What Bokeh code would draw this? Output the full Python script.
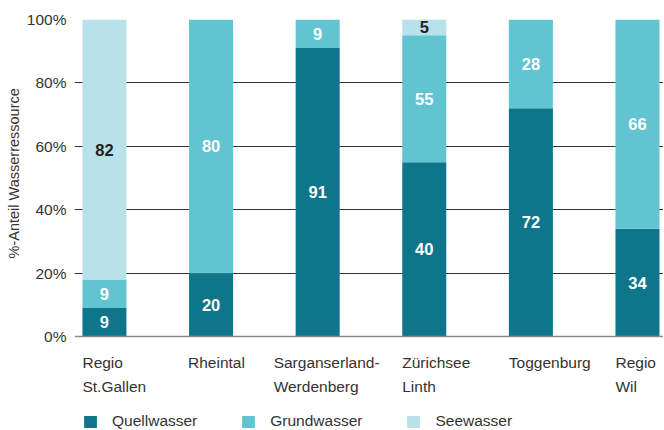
from bokeh.plotting import figure
from bokeh.models import (ColumnDataSource, LabelSet, Legend, LegendItem, FixedTicker,
                          Range1d, Span, Title)
from bokeh.embed import file_html
from bokeh.resources import INLINE
from bokeh.core.properties import value

# ---- data ----
regions = ["Regio\nSt.Gallen", "Rheintal", "Sarganserland-\nWerdenberg",
           "Zürichsee\nLinth", "Toggenburg", "Regio\nWil"]
quellwasser = [9, 20, 91, 55, 72, 34]
grundwasser = [9, 80, 9, 40, 28, 66]
seewasser = [82, 0, 0, 5, 0, 0]
quell_labels = ["9", "20", "91", "40", "72", "34"]
grund_labels = ["9", "80", "9", "55", "28", "66"]
see_labels = ["82", "", "", "5", "", ""]
series = ["Quellwasser", "Grundwasser", "Seewasser"]
y_ticks = [0, 20, 40, 60, 80, 100]
y_title = "%-Anteil Wasserressource"

# ---- style ----
colors = ["#0e758a", "#62c4d1", "#b9e1e9"]
label_colors = ["#ffffff", "#ffffff", "#222222"]
cat_nudge = [0, -1, -22, 0, 0, 0]   # px nudges of category labels (layout only)
FONT = "Liberation Sans"
BAR_W = 0.413

n = len(regions)
xs = list(range(n))
q_bot = [0] * n
q_top = [q for q in quellwasser]
g_bot = q_top
g_top = [q + g for q, g in zip(quellwasser, grundwasser)]
s_bot = g_top
s_top = [q + g + s for q, g, s in zip(quellwasser, grundwasser, seewasser)]

src = ColumnDataSource(dict(
    x=xs,
    q_bot=q_bot, q_top=q_top, g_bot=g_bot, g_top=g_top, s_bot=s_bot, s_top=s_top,
    q_mid=[(a + b) / 2 for a, b in zip(q_bot, q_top)],
    g_mid=[(a + b) / 2 for a, b in zip(g_bot, g_top)],
    s_mid=[(a + b) / 2 for a, b in zip(s_bot, s_top)],
    q_lab=quell_labels, g_lab=grund_labels, s_lab=see_labels,
    cat_x=[x - BAR_W / 2 for x in xs], cat_y=[0] * n, cat=regions, cat_dx=cat_nudge,
))

# frame extends below the 0-line so that category labels and legend live inside it
p = figure(width=663, height=429, output_backend="svg", toolbar_location=None,
           x_range=Range1d(-0.281, 5.244), y_range=Range1d(-29.3, 100),
           x_axis_location=None,
           min_border_left=74, min_border_right=0, min_border_top=19, min_border_bottom=0)
p.outline_line_color = None
p.background_fill_color = "white"
p.border_fill_color = "white"

renderers = []
for (b, t), c in zip([("q_bot", "q_top"), ("g_bot", "g_top"), ("s_bot", "s_top")], colors):
    r = p.vbar(x="x", bottom=b, top=t, width=BAR_W, source=src, fill_color=c, line_color=None)
    renderers.append(r)

for mid, lab, col in zip(["q_mid", "g_mid", "s_mid"], ["q_lab", "g_lab", "s_lab"], label_colors):
    p.add_layout(LabelSet(x="x", y=mid, text=lab, source=src, text_align="center",
                          text_baseline="middle", text_font=value(FONT), text_font_style="bold",
                          text_font_size=value("16.5px"), text_color=col))

# baseline (x axis line)
p.add_layout(Span(location=0, dimension="width", line_color="#8c8c8c", line_width=1.5))

# category labels, left-aligned at bar edge
p.add_layout(LabelSet(x="cat_x", y="cat_y", text="cat", source=src, text_align="left",
                      text_baseline="top", y_offset=-17, x_offset="cat_dx",
                      text_font=value(FONT),
                      text_font_size=value("15.5px"), text_color="#333333",
                      text_line_height=1.42))

# y axis
p.yaxis.ticker = FixedTicker(ticks=y_ticks)
p.yaxis.major_label_overrides = {t: f"{t}%" for t in y_ticks}
p.yaxis.axis_line_color = None
p.yaxis.major_tick_line_color = None
p.yaxis.minor_tick_line_color = None
p.yaxis.major_tick_out = 0
p.yaxis.major_tick_in = 0
p.yaxis.major_label_standoff = 8
p.yaxis.major_label_text_font = FONT
p.yaxis.major_label_text_font_size = "15.5px"
p.yaxis.major_label_text_color = "#333333"

p.add_layout(Title(text=y_title, align="left", offset=171, text_font=FONT,
                   text_font_size="14.5px", text_font_style="normal",
                   text_color="#333333", standoff=3), "left")

p.xgrid.visible = False
p.ygrid.ticker = FixedTicker(ticks=y_ticks[1:])
p.ygrid.grid_line_color = "#333333"
p.ygrid.grid_line_width = 1

legend = Legend(items=[LegendItem(label=s, renderers=[r]) for s, r in zip(series, renderers)],
                location=(8, -1), orientation="horizontal", padding=0, margin=0,
                spacing=43, glyph_width=16, glyph_height=15, label_height=15,
                label_standoff=14, label_text_font=FONT, label_text_font_size="15.5px",
                label_text_color="#333333", border_line_color=None,
                background_fill_alpha=0)
p.add_layout(legend, "center")

open("out.html", "w").write(file_html(p, INLINE))
